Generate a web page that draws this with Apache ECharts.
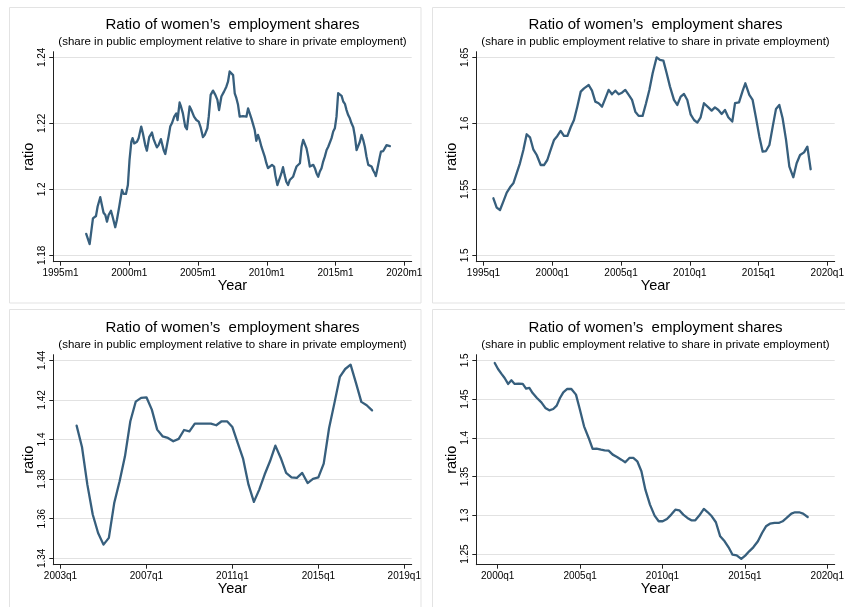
<!DOCTYPE html>
<html><head><meta charset="utf-8">
<script src="https://cdn.jsdelivr.net/npm/echarts@6/dist/echarts.min.js"></script>
<style>html,body{margin:0;padding:0;background:#fff}#c{width:845px;height:607px}</style>
</head><body><div id="c"></div>
<script>
// ---------- Panel 1 (monthly) ----------
const p1Year = [1996.87,1997.12,1997.36,1997.46,1997.58,1997.70,1997.89,1997.96,1998.13,1998.26,1998.38,1998.50,1998.67,1998.79,1998.98,1999.10,1999.27,1999.47,1999.59,1999.76,1999.90,2000.02,2000.15,2000.24,2000.36,2000.56,2000.68,2000.87,2000.99,2001.16,2001.28,2001.45,2001.65,2001.77,2001.89,2002.01,2002.13,2002.30,2002.50,2002.62,2002.74,2002.86,2002.98,2003.10,2003.27,2003.42,2003.51,2003.66,2003.76,2003.90,2004.07,2004.19,
2004.27,2004.39,2004.52,2004.71,2004.88,2005.05,2005.19,2005.36,2005.49,2005.68,2005.78,2005.92,2006.09,2006.26,2006.41,2006.53,2006.70,2006.89,2007.06,2007.18,2007.30,2007.42,2007.55,2007.67,2007.79,2007.91,2008.03,2008.15,2008.27,2008.39,2008.52,2008.64,2008.76,2008.88,2009.00,2009.12,2009.24,2009.36,2009.48,2009.61,2009.73,2009.85,2009.97,2010.09,2010.21,2010.38,2010.53,2010.62,2010.77,2010.89,2011.06,2011.18,2011.30,2011.42,2011.55,2011.67,2011.79,2011.91,
2012.04,2012.16,2012.29,2012.41,2012.53,2012.65,2012.77,2012.89,2013.01,2013.13,2013.26,2013.38,2013.50,2013.62,2013.74,2013.86,2013.98,2014.10,2014.22,2014.35,2014.47,2014.59,2014.71,2014.83,2014.95,2015.07,2015.19,2015.32,2015.44,2015.56,2015.68,2015.80,2015.92,2016.04,2016.16,2016.29,2016.41,2016.53,2016.65,2016.77,2016.89,2017.01,2017.13,2017.25,2017.38,2017.50,2017.62,2017.74,2017.86,2017.93,2018.05,2018.22,2018.30,2018.47,2018.59,2018.71,2018.83,2018.95];
const p1Ratio = [1.1865,1.1834,1.1912,1.1914,1.1919,1.1948,1.1976,1.1973,1.1929,1.1922,1.1902,1.1922,1.1935,1.1917,1.1885,1.1907,1.1947,1.1998,1.1986,1.1986,1.2013,1.2089,1.2144,1.2155,1.2139,1.2144,1.2155,1.2190,1.2170,1.2134,1.2117,1.2158,1.2172,1.2152,1.2139,1.2127,1.2134,1.2152,1.2119,1.2107,1.2109,1.2160,1.2190,1.2200,1.2220,1.2230,1.2210,1.2263,1.2251,1.2230,1.2190,1.2182,
1.2182,1.2251,1.2240,1.2220,1.2210,1.2205,1.2188,1.2158,1.2165,1.2185,1.2220,1.2286,1.2299,1.2286,1.2271,1.2240,1.2281,1.2296,1.2311,1.2326,1.2357,1.2362,1.2346,1.2291,1.2276,1.2256,1.2220,1.2218,1.2222,1.2220,1.2220,1.2245,1.2230,1.2215,1.2212,1.2180,1.2147,1.2165,1.2150,1.2129,1.2124,1.2099,1.2079,1.2064,1.2064,1.2074,1.2069,1.2043,1.2013,1.2018,1.2048,1.2067,1.2043,1.2023,1.2013,1.2028,1.2033,1.2038,
1.2054,1.2069,1.2067,1.2079,1.2129,1.2150,1.2144,1.2124,1.2099,1.2069,1.2074,1.2074,1.2064,1.2048,1.2038,1.2054,1.2064,1.2084,1.2099,1.2119,1.2129,1.2134,1.2155,1.2175,1.2185,1.2220,1.2291,1.2291,1.2283,1.2266,1.2259,1.2240,1.2225,1.2215,1.2200,1.2188,1.2160,1.2119,1.2124,1.2144,1.2165,1.2150,1.2129,1.2099,1.2074,1.2074,1.2069,1.2057,1.2048,1.2040,1.2064,1.2099,1.2114,1.2116,1.2121,1.2134,1.2134,1.2131];
const p1XTicks = [1995,2000,2005,2010,2015,2020];
const p1YTicks = [1.18,1.2,1.22,1.24];

// ---------- Panel 2 (quarterly) ----------
const p2Year = [1995.72,1995.96,1996.20,1996.44,1996.69,1996.93,1997.17,1997.41,1997.65,1997.90,1998.14,1998.38,1998.62,1998.87,1999.16,1999.40,1999.64,1999.84,2000.13,2000.37,2000.61,2000.85,2001.10,2001.34,2001.58,2001.82,2002.07,2002.31,2002.65,2002.89,2003.13,2003.37,2003.62,2003.86,2004.10,2004.34,2004.59,2004.83,2005.07,2005.31,2005.56,2005.80,2006.04,2006.28,2006.57,2006.82,2007.06,2007.30,2007.59,2007.83,2008.08,2008.32,2008.56,2008.85,2009.09,2009.34,2009.58,2009.82,2010.06,2010.31,2010.55,2010.79,2011.03,2011.35,2011.59,2011.83,2012.08,2012.32,2012.56,2012.80,2013.09,2013.29,2013.58,2013.85,2014.04,2014.33,2014.57,2014.82,2015.06,2015.30,2015.54,2015.79,2016.03,2016.27,2016.51,2016.75,2017.00,2017.24,2017.53,2017.77,2018.02,2018.31,2018.55,2018.79];
const p2Ratio = [1.5432,1.5361,1.5343,1.5407,1.5475,1.5515,1.5545,1.5621,1.5697,1.5798,1.5917,1.5894,1.5803,1.5760,1.5684,1.5684,1.5722,1.5785,1.5874,1.5904,1.5942,1.5904,1.5904,1.5970,1.6025,1.6126,1.6240,1.6265,1.6290,1.6247,1.6164,1.6152,1.6126,1.6189,1.6253,1.6220,1.6247,1.6220,1.6232,1.6253,1.6215,1.6177,1.6088,1.6056,1.6056,1.6152,1.6253,1.6379,1.6500,1.6480,1.6475,1.6379,1.6278,1.6177,1.6139,1.6202,1.6222,1.6177,1.6068,1.6025,1.6005,1.6045,1.6152,1.6121,1.6096,1.6121,1.6101,1.6071,1.6101,1.6046,1.6013,1.6152,1.6159,1.6248,1.6303,1.6215,1.6177,1.6038,1.5899,1.5785,1.5790,1.5836,1.5975,1.6109,1.6139,1.6038,1.5874,1.5672,1.5591,1.5697,1.5760,1.5780,1.5823,1.5652];
const p2XTicks = [1995,2000,2005,2010,2015,2020];
const p2YTicks = [1.5,1.55,1.6,1.65];

// ---------- Panel 3 (quarterly) ----------
const p3Year = [2003.75,2004.00,2004.25,2004.50,2004.75,2005.00,2005.25,2005.50,2005.75,2006.00,2006.25,2006.50,2006.75,2007.00,2007.25,2007.50,2007.75,2008.00,2008.25,2008.50,2008.75,2009.00,2009.25,2009.50,2009.75,2010.00,2010.25,2010.50,2010.75,2011.00,2011.25,2011.50,2011.75,2012.00,2012.25,2012.50,2012.75,2013.00,2013.25,2013.50,2013.75,2014.00,2014.25,2014.50,2014.75,2015.00,2015.25,2015.50,2015.75,2016.00,2016.25,2016.50,2016.75,2017.00,2017.25,2017.50];
const p3Ratio = [1.4070,1.3962,1.3772,1.3621,1.3528,1.3469,1.3503,1.3679,1.3789,1.3915,1.4092,1.4191,1.4210,1.4213,1.4151,1.4050,1.4016,1.4008,1.3991,1.4003,1.4048,1.4041,1.4080,1.4080,1.4080,1.4080,1.4072,1.4092,1.4092,1.4063,1.3982,1.3902,1.3772,1.3685,1.3747,1.3823,1.3890,1.3969,1.3907,1.3831,1.3809,1.3806,1.3831,1.3780,1.3801,1.3809,1.3878,1.4058,1.4185,1.4316,1.4356,1.4378,1.4286,1.4190,1.4173,1.4147];
const p3XTicks = [2003,2007,2011,2015,2019];
const p3YTicks = [1.34,1.36,1.38,1.4,1.42,1.44];

// ---------- Panel 4 (quarterly) ----------
const p4Year = [1999.82,2000.02,2000.22,2000.42,2000.63,2000.83,2001.03,2001.27,2001.52,2001.72,2001.92,2002.12,2002.38,2002.65,2002.89,2003.13,2003.37,2003.58,2003.78,2003.98,2004.22,2004.47,2004.75,2004.99,2005.24,2005.52,2005.76,2006.00,2006.27,2006.49,2006.73,2006.98,2007.24,2007.50,2007.74,2007.99,2008.23,2008.47,2008.72,2008.96,2009.24,2009.52,2009.77,2010.01,2010.27,2010.53,2010.78,2011.02,2011.26,2011.51,2011.75,2011.99,2012.23,2012.51,2012.75,2012.99,2013.24,2013.50,2013.77,2014.01,2014.25,2014.50,2014.78,2015.02,2015.26,2015.51,2015.79,2016.04,2016.28,2016.52,2016.80,2017.05,2017.29,2017.53,2017.82,2018.04,2018.29,2018.53,2018.81];
const p4Ratio = [1.4966,1.4888,1.4828,1.4772,1.4695,1.4742,1.4695,1.4699,1.4695,1.4634,1.4643,1.4578,1.4514,1.4458,1.4385,1.4355,1.4372,1.4415,1.4514,1.4587,1.4630,1.4630,1.4557,1.4363,1.4148,1.3998,1.3856,1.3860,1.3847,1.3839,1.3834,1.3783,1.3753,1.3718,1.3684,1.3740,1.3740,1.3697,1.3568,1.3331,1.3138,1.2996,1.2923,1.2923,1.2953,1.3009,1.3073,1.3065,1.3009,1.2966,1.2935,1.2935,1.2996,1.3082,1.3039,1.2987,1.2910,1.2729,1.2665,1.2587,1.2492,1.2484,1.2437,1.2480,1.2535,1.2587,1.2665,1.2772,1.2858,1.2892,1.2901,1.2901,1.2923,1.2966,1.3022,1.3039,1.3039,1.3022,1.2978];
const p4XTicks = [2000,2005,2010,2015,2020];
const p4YTicks = [1.25,1.3,1.35,1.4,1.45,1.5];

const titleText = "Ratio of women\u2019s  employment shares";
const subtitleText = "(share in public employment relative to share in private employment)";
const xName = "Year";
const yName = "ratio";

// ---------- layout / style ----------
const FONT = '"Liberation Sans", Arial, Helvetica, sans-serif';
const LINE = '#375f7d';
const GRIDC = '#e2e2e2';
const AXC = '#222';
const panels = [
  {left:53.3, top:51.7, xMin:1994.4764, xMax:2020.538, yMin:1.178061, yMax:1.241697, xt:p1XTicks, yt:p1YTicks, suf:'m1', xs:p1Year, ys:p1Ratio},
  {left:476.3, top:51.7, xMin:1994.4764, xMax:2020.538, yMin:1.495152, yMax:1.654242, xt:p2XTicks, yt:p2YTicks, suf:'q1', xs:p2Year, ys:p2Ratio},
  {left:53.3, top:354.7, xMin:2002.6649, xMax:2019.3444, yMin:1.336768, yMax:1.442828, xt:p3XTicks, yt:p3YTicks, suf:'q1', xs:p3Year, ys:p3Ratio},
  {left:476.3, top:354.7, xMin:1998.7015, xMax:2020.449, yMin:1.236258, yMax:1.507226, xt:p4XTicks, yt:p4YTicks, suf:'q1', xs:p4Year, ys:p4Ratio}
];
const W = 358.4, H = 210;

const grids = [], xAxes = [], yAxes = [], series = [], graphics = [];
const boxes = [[9.5,7.5,411.5,295.5],[432.5,7.5,420,295.5],[9.5,309.5,411.5,310],[432.5,309.5,420,310]];
boxes.forEach(b => graphics.push({type:'rect', z:-10, shape:{x:b[0], y:b[1], width:b[2], height:b[3]}, style:{fill:'#fff', stroke:'#e3e3e3', lineWidth:1}}));

panels.forEach((p, i) => {
  grids.push({left:p.left, top:p.top, width:W, height:H, containLabel:false, outerBoundsMode:'none'});
  xAxes.push({
    type:'value', gridIndex:i, min:p.xMin, max:p.xMax,
    name:xName, nameLocation:'middle', nameGap:17, nameMoveOverlap:false,
    nameTextStyle:{fontFamily:FONT, fontSize:14.5, color:'#000'},
    axisLine:{show:true, onZero:false, lineStyle:{color:AXC, width:1}},
    axisTick:{show:true, length:4, customValues:p.xt, lineStyle:{color:AXC, width:1}},
    axisLabel:{customValues:p.xt, margin:6.5, fontFamily:FONT, fontSize:10, color:'#000',
      formatter: v => Math.round(v) + p.suf, showMinLabel:true, showMaxLabel:true, hideOverlap:false},
    splitLine:{show:false}
  });
  yAxes.push({
    type:'value', gridIndex:i, min:p.yMin, max:p.yMax,
    name:yName, nameLocation:'middle', nameGap:17, nameRotate:90, nameMoveOverlap:false,
    nameTextStyle:{fontFamily:FONT, fontSize:14.5, color:'#000'},
    axisLine:{show:true, onZero:false, lineStyle:{color:AXC, width:1}},
    axisTick:{show:true, length:4, customValues:p.yt, lineStyle:{color:AXC, width:1}},
    axisLabel:{customValues:p.yt, rotate:90, margin:6, fontFamily:FONT, fontSize:10, color:'#000',
      formatter: v => String(parseFloat(Number(v).toFixed(4))), showMinLabel:true, showMaxLabel:true, hideOverlap:false},
    splitLine:{show:true, lineStyle:{color:GRIDC, width:1}}
  });
  series.push({
    type:'line', xAxisIndex:i, yAxisIndex:i,
    data: p.xs.map((x, k) => [x, p.ys[k]]),
    showSymbol:false, symbol:'none', smooth:false, animation:false, silent:true,
    lineStyle:{color:LINE, width:2.3, join:'round', cap:'round'}
  });
  const cx = p.left + W / 2;
  const dy = p.top - 51.7;
  graphics.push({type:'text', z:10, x:cx, y:25 + dy, style:{text:titleText, fill:'#000', font:'15px ' + FONT, textAlign:'center', textVerticalAlign:'middle', align:'center', verticalAlign:'middle'}});
  graphics.push({type:'text', z:10, x:cx, y:42.3 + dy, style:{text:subtitleText, fill:'#000', font:'11.5px ' + FONT, textAlign:'center', textVerticalAlign:'middle', align:'center', verticalAlign:'middle'}});
});

const chart = echarts.init(document.getElementById('c'), null, {renderer:'canvas'});
chart.setOption({
  backgroundColor:'#fff',
  animation:false,
  textStyle:{fontFamily:FONT},
  grid:grids, xAxis:xAxes, yAxis:yAxes, series:series,
  graphic:{elements:graphics}
});
</script></body></html>
